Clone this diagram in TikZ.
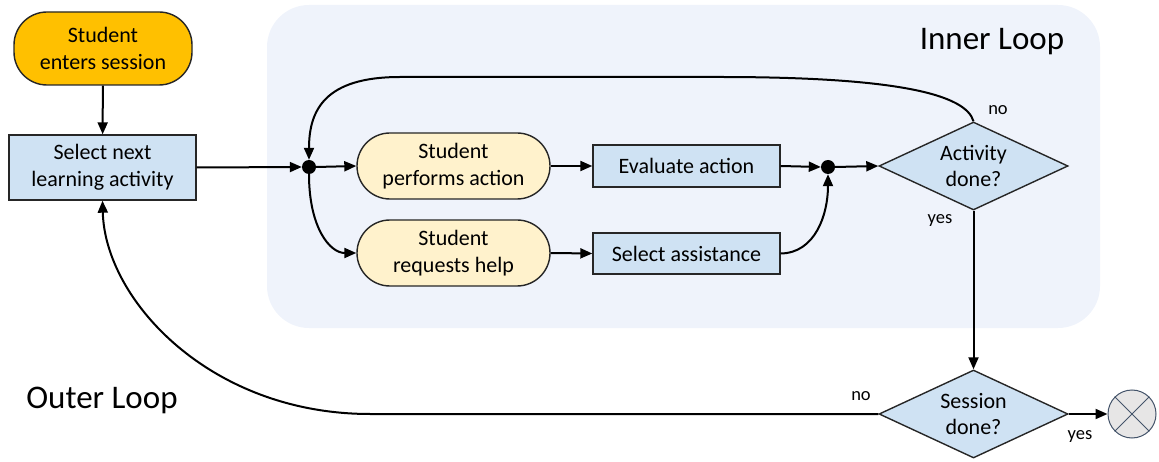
\documentclass[tikz,border=0pt]{standalone}
\usepackage{fontspec}
\setmainfont{Carlito}
\usetikzlibrary{shapes.geometric,arrows.meta,positioning}
\definecolor{bgblue}{RGB}{239,243,251}
\definecolor{boxblue}{RGB}{207,226,243}
\definecolor{softyellow}{RGB}{255,242,204}
\definecolor{gold}{RGB}{255,192,0}
\definecolor{endgrey}{RGB}{231,230,230}
\definecolor{endedge}{RGB}{68,84,106}
\tikzset{
  x=1pt,y=-1pt,
  txt/.style={font=\fontsize{22}{26.5}\selectfont,align=center,text=black},
  procbox/.style={txt,draw=black!85,line width=1.4pt,fill=boxblue,inner sep=0pt},
  termbox/.style={txt,draw=black!85,line width=1.4pt,rounded corners=33pt,inner sep=0pt},
  decbox/.style={txt,draw=black!85,line width=1.4pt,fill=boxblue,diamond,inner sep=0pt,minimum width=189pt,minimum height=88pt,aspect=2.15},
  junc/.style={circle,fill=black,inner sep=0pt,minimum size=14pt},
  conn/.style={line width=2pt,-{Triangle[length=12pt,width=10pt]}},
  lbl/.style={font=\fontsize{18.5}{22}\selectfont,text=black},
  big/.style={font=\fontsize{33}{38}\selectfont,text=black}
}
\begin{document}
\begin{tikzpicture}
\useasboundingbox (0,0) rectangle (1159,462);
\fill[bgblue,rounded corners=42pt] (267,5) rectangle (1100,328);
\node[big] (inner) at (992,42) {Inner Loop};
\node[big] (outer) at (102,400) {Outer Loop};

\node[termbox,fill=gold,minimum width=178pt,minimum height=73pt] (start) at (103,48.5) {Student\\enters session};
\node[procbox,minimum width=187pt,minimum height=65pt] (sel) at (102.5,167.5) {Select next\\learning activity};
\node[junc] (j1) at (309,167) {};
\node[termbox,fill=softyellow,minimum width=193pt,minimum height=66pt] (perf) at (453.5,166) {Student\\performs action};
\node[termbox,fill=softyellow,minimum width=193pt,minimum height=66pt] (req) at (453.5,253) {Student\\requests help};
\node[procbox,minimum width=187pt,minimum height=42pt] (eval) at (686.5,166) {Evaluate action};
\node[procbox,minimum width=187pt,minimum height=41pt] (assist) at (686.5,253.5) {Select assistance};
\node[junc] (j2) at (828,167) {};
\node[decbox] (act) at (973.5,166) {Activity\\done?};
\node[decbox] (sess) at (973.5,414) {Session\\done?};
\node[circle,draw=endedge,line width=1pt,fill=endgrey,minimum size=48pt,inner sep=0pt] (end) at (1132,414) {};
\draw[endedge,line width=1pt] (end.north east) -- (end.south west) (end.north west) -- (end.south east);

\node[lbl] (no1) at (998,110) {no};
\node[lbl] (yes1) at (940,221) {yes};
\node[lbl] (no2) at (861,396) {no};
\node[lbl] (yes2) at (1080,437) {yes};

\draw[conn] (start) -- (sel);
\draw[conn] (sel.east) -- (j1.west);
\draw[conn] (j1.east) -- (perf.west);
\draw[conn] (j1.south) .. controls (309,228) and (330,253) .. (req.west);
\draw[conn] (perf.east) -- (eval.west);
\draw[conn] (req.east) -- (assist.west);
\draw[conn] (eval.east) -- (j2.west);
\draw[conn] (assist.east) .. controls (815,253) and (828,215) .. (j2.south);
\draw[conn] (j2.east) -- (act.west);
\draw[conn] (act.north) .. controls (966,95) and (900,77) .. (720,77) -- (400,77) .. controls (325,77) and (309,110) .. (j1.north);
\draw[conn] (act.south) -- (sess.north);
\draw[conn] (sess.east) -- (end.west);
\draw[conn] (sess.west) -- (370,414) .. controls (210,414) and (105,300) .. (sel.south);
\end{tikzpicture}
\end{document}
